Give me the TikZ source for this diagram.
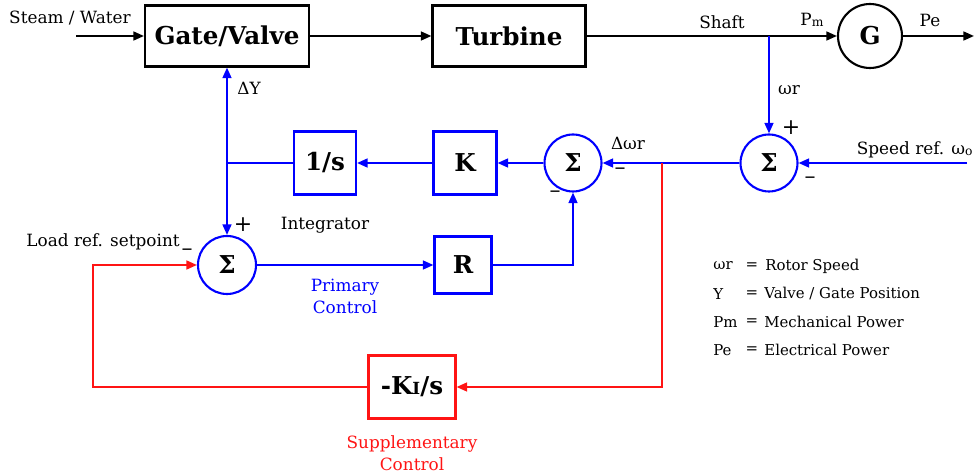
\documentclass[tikz,border=0pt]{standalone}
\usepackage{fontspec}
\setmainfont{DejaVu Serif}
\usetikzlibrary{arrows.meta}
\definecolor{cblue}{RGB}{0,0,255}
\definecolor{cred}{RGB}{255,20,20}
\begin{document}
\begin{tikzpicture}[x=0.02cm,y=-0.02cm,
  arr/.style={-{Triangle[length=6pt,width=5pt]}},
  bbox/.style={draw=black,line width=1.2pt,inner sep=0pt,font=\fontsize{14}{16}\selectfont\bfseries},
  blbox/.style={draw=cblue,line width=1.2pt,inner sep=0pt,minimum width=1.24cm,minimum height=1.26cm,font=\fontsize{14}{16}\selectfont\bfseries},
  sumc/.style={circle,draw=cblue,line width=1.2pt,inner sep=0pt,minimum size=1.14cm,font=\fontsize{14}{16}\selectfont\bfseries},
  lbl/.style={font=\fontsize{9.6}{11.5}\selectfont,inner sep=0pt},
  sgn/.style={font=\fontsize{12.5}{13}\selectfont,inner sep=0pt},
  leg/.style={font=\fontsize{8.5}{10}\selectfont,inner sep=0pt},
  bl/.style={draw=cblue,line width=1.2pt},
  rl/.style={draw=cred,line width=1.2pt},
  kl/.style={draw=black,line width=1.2pt}]
\useasboundingbox (0,0) rectangle (975,476);
% top row
\node[bbox,minimum width=3.28cm,minimum height=1.22cm] (gate) at (227,36) {Gate/Valve};
\node[bbox,minimum width=3.06cm,minimum height=1.22cm] (turb) at (509,36) {Turbine};
\node[bbox,circle,minimum size=1.28cm] (gen) at (870,36) {G};
\coordinate (sw) at (76,36);
\coordinate (pe) at (974,36);
\coordinate (jw) at (769,36);
\node[lbl] (steam) at (70,18) {Steam / Water};
\node[lbl] (shaft) at (722,22) {Shaft};
\node[lbl] (pm) at (812,20) {P\raisebox{-0.5pt}{\fontsize{7}{8}\selectfont m}};
\node[lbl] (pel) at (930,20) {Pe};
\path[kl,arr] (sw) -- (gate.west);
\path[kl,arr] (gate.east) -- (turb.west);
\path[kl,arr] (turb.east) -- (gen.west);
\path[kl,arr] (gen.east) -- (pe);
% middle row
\node[sumc] (sR) at (769,163) {Σ};
\node[sumc] (sM) at (573,163) {Σ};
\node[blbox,minimum width=1.26cm] (K) at (465,163) {K};
\node[blbox] (I) at (325,163) {1/s};
\node[sumc,minimum size=1.16cm] (sL) at (227,265) {Σ};
\node[blbox,minimum width=1.14cm,minimum height=1.14cm] (R) at (463,265) {R};
\node[bbox,draw=cred,minimum width=1.74cm,minimum height=1.26cm] (KI) at (412,387) {-K\raisebox{0pt}{\fontsize{9.5}{11}\selectfont I}/s};
\coordinate (sp) at (967,163);
\coordinate (jY) at (227,163);
\coordinate (jR) at (662,163);
\coordinate (cL) at (93,387);
% labels
\node[lbl] (wr) at (789,90) {ωr};
\node[lbl] (dY) at (249,88) {ΔY};
\node[lbl] (dwr) at (628,143) {Δωr};
\node[lbl,anchor=east] (spd) at (973,150) {Speed ref. ω\raisebox{-0.5pt}{\fontsize{7}{8}\selectfont o}};
\node[lbl,anchor=east] (load) at (180,242) {Load ref. setpoint};
\node[lbl] (integ) at (325,225) {Integrator};
\node[lbl,text=cblue,align=center] (prim) at (345,296) {Primary\\[1pt]Control};
\node[lbl,text=cred,align=center] (supp) at (412,453) {Supplementary\\[1pt]Control};
\node[sgn] (p1) at (791,128) {+};
\node[sgn] (m1) at (810,180) {–};
\node[sgn] (m2) at (620,171) {–};
\node[sgn] (m3) at (555,194) {–};
\node[sgn] (p2) at (243,225) {+};
\node[sgn] (m4) at (187,252) {–};
% legend
\node[leg,anchor=west] (l1a) at (713,266) {ωr};
\node[leg] (l1b) at (752,266) {=};
\node[leg,anchor=west] (l1c) at (765,266) {Rotor Speed};
\node[leg,anchor=west] (l2a) at (713,294) {Y};
\node[leg] (l2b) at (752,294) {=};
\node[leg,anchor=west] (l2c) at (764,294) {Valve / Gate Position};
\node[leg,anchor=west] (l3a) at (713,322) {Pm};
\node[leg] (l3b) at (752,322) {=};
\node[leg,anchor=west] (l3c) at (764,322) {Mechanical Power};
\node[leg,anchor=west] (l4a) at (713,350) {Pe};
\node[leg] (l4b) at (752,350) {=};
\node[leg,anchor=west] (l4c) at (764,350) {Electrical Power};
% blue connectors
\path[bl,arr] (jw) -- (sR.north);
\path[bl,arr] (sp) -- (sR.east);
\path[bl,arr] (sR.west) -- (sM.east);
\path[bl,arr] (sM.west) -- (K.east);
\path[bl,arr] (K.west) -- (I.east);
\path[bl] (I.west) -- (jY);
\path[bl,arr] (jY) -- (gate.south);
\path[bl,arr] (jY) -- (sL.north);
\path[bl,arr] (sL.east) -- (R.west);
\path[bl,arr] (R.east) -| (sM.south);
% red connectors
\path[rl,arr] (jR) |- (KI.east);
\path[rl,arr] (KI.west) -- (cL) |- (sL.west);
\end{tikzpicture}
\end{document}
